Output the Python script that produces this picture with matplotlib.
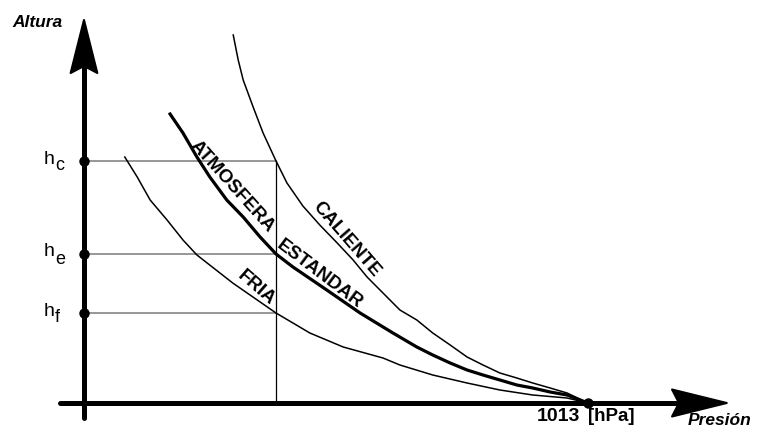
import matplotlib
matplotlib.use("Agg")
import matplotlib.pyplot as plt

plt.rcParams['font.family'] = ['Liberation Sans', 'DejaVu Sans']

# ---- data (pressure in hPa, height in arbitrary units) ----
p0 = 1013
caliente_p = [300, 310, 320, 340, 360, 386, 408, 440, 474, 509, 541, 569, 635,
              669, 701, 736, 770, 802, 836, 870, 902, 937, 971, 1013]
caliente_h = [36.8, 34.3, 32.3, 29.6, 27.0, 24.2, 22.0, 19.7, 17.8, 16.0, 14.3,
              12.6, 9.3, 8.3, 7.0, 5.8, 4.6, 3.8, 3.0, 2.5, 2.0, 1.5, 1.0, 0.0]

estandar_p = [173, 199, 227, 253, 287, 320, 354, 386, 420, 488, 555, 621, 669,
              701, 736, 770, 802, 836, 870, 902, 937, 971, 1013]
estandar_h = [28.9, 27.0, 24.6, 22.6, 20.3, 18.6, 16.6, 14.9, 13.6, 11.3, 9.0,
              7.0, 5.6, 4.8, 4.0, 3.3, 2.8, 2.3, 1.8, 1.5, 1.1, 0.8, 0.0]

fria_p = [82, 107, 133, 167, 199, 227, 299, 386, 454, 521, 601, 635, 701, 770,
          836, 902, 971, 1013]
fria_h = [24.6, 22.6, 20.3, 18.3, 16.3, 14.8, 12.0, 9.0, 7.0, 5.6, 4.5, 3.8,
          2.8, 2.0, 1.3, 0.8, 0.5, 0.0]

p_ref = 386                      # pressure of the vertical reference line
levels = {'c': 24.2, 'e': 14.9, 'f': 9.0}

# ---- figure ----
fig = plt.figure(figsize=(7.61, 4.36), dpi=100)
ax = fig.add_axes([0, 0, 1, 1])
ax.set_xlim(-168.8, 1360.8)
ax.set_ylim(-3.3, 40.3)
ax.axis('off')

# reference lines
for k, h in levels.items():
    ax.plot([0, p_ref], [h, h], color='#7a7a7a', lw=1.1, zorder=2)
ax.plot([p_ref, p_ref], [0, levels['c']], color='black', lw=0.9, zorder=2)

# curves
ax.plot(caliente_p, caliente_h, color='black', lw=1.1, zorder=3,
        solid_joinstyle='round')
ax.plot(estandar_p, estandar_h, color='black', lw=2.3, zorder=3,
        solid_joinstyle='round')
ax.plot(fria_p, fria_h, color='black', lw=1.1, zorder=3,
        solid_joinstyle='round')

# axes with arrows
ax.plot([0, 0], [-1.5, 33.6], color='black', lw=3.6, solid_capstyle='round', zorder=4)
ax.fill([0, -26.8, 0, 26.8], [38.3, 33.0, 33.7, 33.0], color='black',
        lw=1.5, joinstyle='round', zorder=4)
ax.plot([-48, 1195], [0, 0], color='black', lw=3.6, solid_capstyle='round', zorder=4)
ax.fill([1292, 1182, 1196, 1182], [0, 1.35, 0, -1.35], color='black',
        lw=1.5, joinstyle='round', zorder=4)

# dots
ax.plot([0] * len(levels), list(levels.values()), 'o', color='black', ms=6.5, zorder=5)
ax.plot([p0], [0], 'o', color='black', ms=6.5, zorder=5)

# height labels
for k, h in levels.items():
    ax.text(-58.3, h - 0.25, 'h', ha='right', va='baseline', fontsize=14)
    ax.text(-58.3, h - 0.95, k, ha='left', va='baseline', fontsize=13)

# axis titles
ax.text(-144.7, 38.05, 'Altura', ha='left', va='center', fontsize=12.5,
        fontweight='bold', style='italic')
ax.text(1214, -2.2, 'Presión', ha='left', va='baseline', fontsize=12.5,
        fontweight='bold', style='italic')
ax.text(911, -1.75, str(p0), ha='left', va='baseline', fontsize=14,
        fontweight='bold')
ax.text(1013, -1.75, '[hPa]', ha='left', va='baseline', fontsize=13.5,
        fontweight='bold')

# curve labels
lab_kw = dict(ha='center', va='center', fontsize=13.5, fontweight='bold',
              rotation_mode='anchor')
ax.text(297.5, 21.6, 'ATMOSFERA', rotation=-48, **lab_kw)
ax.text(474, 12.9, 'ESTANDAR', rotation=-37, **lab_kw)
ax.text(527.6, 16.4, 'CALIENTE', rotation=-49, **lab_kw)
ax.text(346.7, 11.5, 'FRIA', rotation=-41, **lab_kw)

fig.savefig('out.png', dpi=100)
